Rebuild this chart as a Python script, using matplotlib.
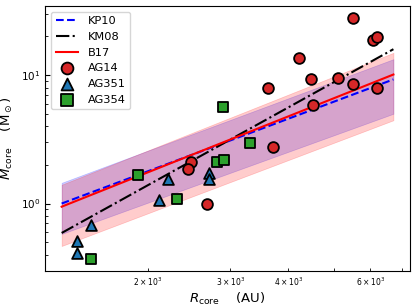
import matplotlib
matplotlib.use("Agg")
import matplotlib.pyplot as plt
import numpy as np

# core radius (AU) and mass (Msun)
r_ag14 = [2474, 2434, 2672, 3714, 3623, 4224, 4476, 4527, 5115, 5508, 5508, 6080, 6211, 6192]
m_ag14 = [2.12, 1.85, 1.00, 2.77, 7.88, 13.5, 9.36, 5.81, 9.48, 8.56, 27.6, 18.9, 19.8, 7.97]

r_ag351 = [1507, 1410, 1410, 2211, 2111, 2704, 2704]
m_ag351 = [0.68, 0.51, 0.414, 1.54, 1.065, 1.74, 1.54]

r_ag354 = [1509, 1904, 2307, 2808, 2911, 3310, 2901]
m_ag354 = [0.37, 1.67, 1.08, 2.09, 2.18, 2.97, 5.61]

# threshold relations (straight lines in log-log), endpoints
r_fit = [1306, 6720]
kp10 = [1.00, 9.25]
kp10_lo = [0.58, 5.0]
kp10_hi = [1.45, 13.3]
km08 = [0.59, 15.9]
b17 = [0.945, 10.1]
b17_lo = [0.467, 4.45]
b17_hi = [1.40, 14.9]

fig = plt.figure(figsize=(4.16, 3.07), dpi=100)
ax = fig.add_axes([0.109, 0.117, 0.877, 0.863])

ax.fill_between(r_fit, kp10_lo, kp10_hi, color="blue", alpha=0.2, lw=0.5)
ax.fill_between(r_fit, b17_lo, b17_hi, color="red", alpha=0.2, lw=0.5)

ax.plot(r_fit, kp10, color="blue", ls="--", lw=1.5, label="KP10")
ax.plot(r_fit, km08, color="black", ls="-.", lw=1.5, label="KM08")
ax.plot(r_fit, b17, color="red", ls="-", lw=1.5, label="B17")

ax.scatter(r_ag14, m_ag14, s=60, marker="o", c="tab:red", edgecolors="black",
           linewidths=1.3, zorder=3, label="AG14")
ax.scatter(r_ag351, m_ag351, s=60, marker="^", c="tab:blue", edgecolors="black",
           linewidths=1.3, zorder=3, label="AG351")
ax.scatter(r_ag354, m_ag354, s=55, marker="s", c="tab:green", edgecolors="black",
           linewidths=1.3, zorder=3, label="AG354")

ax.set_xscale("log")
ax.set_yscale("log")
ax.set_xlim(1205, 7300)
ax.set_ylim(0.298, 34.4)

ax.tick_params(which="both", direction="in")
ax.tick_params(axis="y", which="major", labelsize=7.5)
ax.tick_params(axis="x", which="minor", labelsize=5.5)

ax.set_xlabel(r"$R_{\rm core}$    (AU)", fontsize=9.5, labelpad=2)
ax.set_ylabel(r"$M_{\rm core}$    (M$_\odot$)", fontsize=9.5, labelpad=4)

ax.legend(loc="upper left", fontsize=8.2, labelspacing=0.5, markerscale=1.1)

fig.savefig("out.png", dpi=100)
